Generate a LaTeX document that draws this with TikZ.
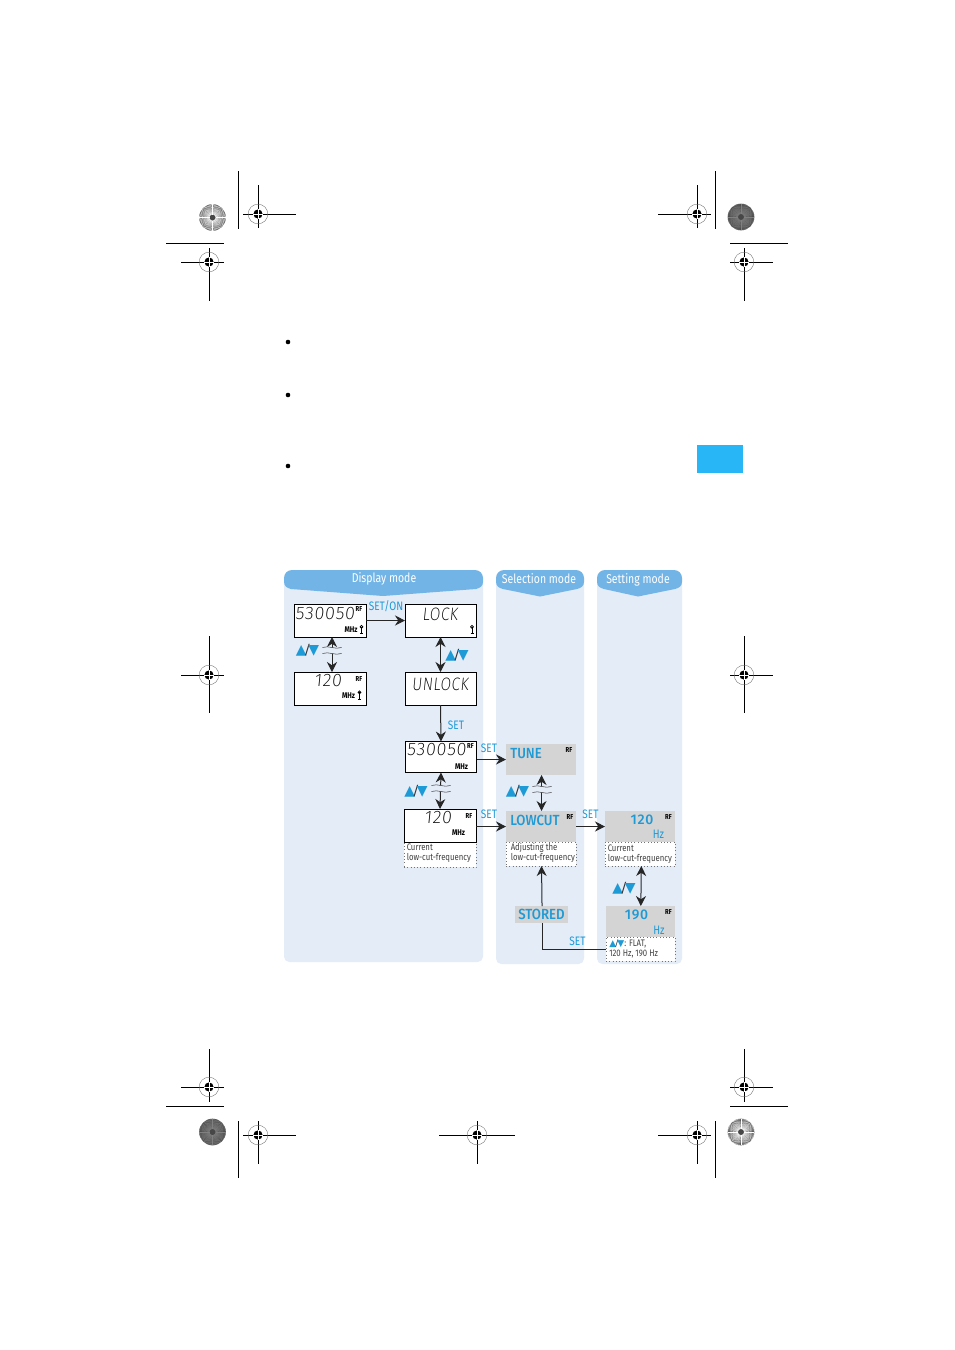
\documentclass[tikz,border=0pt]{standalone}
\usepackage{fontspec}
\usetikzlibrary{arrows.meta,calc}
\setmainfont{Fira Sans}[FakeStretch=0.82]
\newfontfamily\lcdfont{Fira Sans ExtraLight}[FakeSlant=0.1,LetterSpace=4]
\newfontfamily\lcdletter{Fira Sans ExtraLight}[FakeSlant=0.1,FakeStretch=0.85,LetterSpace=3]
\newfontfamily\medfont{Fira Sans Medium}[FakeStretch=0.9]
\newfontfamily\numfont{Fira Sans Medium}[LetterSpace=4]
\newfontfamily\symfont{DejaVu Sans}
\definecolor{pan}{HTML}{E4ECF8}
\definecolor{hdr}{HTML}{72B4E6}
\definecolor{cy}{HTML}{1E9AD6}
\definecolor{gr}{HTML}{D4D4D4}
\definecolor{tab}{HTML}{29B6F6}
\tikzset{
 lcdbox/.style={draw=black,line width=0.65pt,fill=white,inner sep=0pt,outer sep=0pt},
 greybox/.style={fill=gr,inner sep=0pt,outer sep=0pt},
 capbox/.style={draw=black!55,dotted,line width=0.45pt,fill=white,inner sep=0pt,outer sep=0pt},
 arr/.style={-{Stealth[length=7.5pt,width=7.5pt]},line width=0.75pt,black!85},
 darr/.style={{Stealth[length=7.5pt,width=7.5pt]}-{Stealth[length=7.5pt,width=7.5pt]},line width=0.75pt,black!85},
 plainline/.style={line width=0.75pt,black!85},
 lab/.style={inner sep=0pt,text=cy,font=\fontsize{9.2}{11}\selectfont},
 hd/.style={inner sep=0pt,text=white,font=\fontsize{9.6}{11}\selectfont},
 lcd/.style={inner sep=0pt,font=\lcdfont\fontsize{13.5}{14}\selectfont},
 lcdl/.style={inner sep=0pt,font=\lcdletter\fontsize{13.5}{14}\selectfont},
 rf/.style={inner sep=0pt,font=\bfseries\fontsize{5.4}{6}\selectfont},
 mhz/.style={inner sep=0pt,font=\bfseries\fontsize{6.2}{6}\selectfont},
 big/.style={inner sep=0pt,text=cy,font=\medfont\fontsize{11}{12}\selectfont},
 num/.style={inner sep=0pt,text=cy,font=\numfont\fontsize{10.5}{12}\selectfont},
 unit/.style={inner sep=0pt,text=cy,font=\fontsize{9.2}{10}\selectfont},
 captxt/.style={inner sep=0pt,align=left,text=black!75,font=\fontsize{7.1}{7.5}\selectfont},
 regline/.style={line width=0.55pt,black},
}
% box from pixel corners
\newcommand{\bx}[6]{\node[#6,minimum width={(#4-#2)*0.75pt},minimum height={(#5-#3)*0.75pt}] (#1) at ({(#2+#4)/2},{(#3+#5)/2}) {};}
% registration mark: x y h1 h2 v1 v2
\newcommand{\regm}[6]{%
 \draw[regline] (#3,#2)--(#4,#2) (#1,#5)--(#1,#6);
 \draw[line width=0.25pt,black!60] (#1,#2) circle[radius=9.8];
 \fill (#1,#2) circle[radius=4.6];
 \draw[white,line width=0.3pt] (#1-4.6,#2)--(#1+4.6,#2) (#1,#2-4.6)--(#1,#2+4.6);}
% spoked disc: x y fill spoke
\newcommand{\sunb}[4]{%
 \fill[#3] (#1,#2) circle[radius=13.3];
 \foreach \a in {0,5,...,355} \draw[#4,line width=0.25pt] (#1,#2) ++(\a:3) -- ++(\a:10.3);}
% key icon
\newcommand{\keyic}[2]{\draw[line width=0.7pt] (#1,#2-3.5)--(#1,#2+3.5) (#1-1.5,#2+3.5)--(#1+1.5,#2+3.5); \draw[line width=0.6pt] (#1,#2-3.2) circle[radius=1.4];}
% wave break
\newcommand{\wavy}[2]{%
 \fill[pan] (#1-9.5,#2-4.5) .. controls (#1-3,#2-7) and (#1+3,#2-2) .. (#1+9.5,#2-4.5) -- (#1+9.5,#2+1.5) .. controls (#1+3,#2+4) and (#1-3,#2-1) .. (#1-9.5,#2+1.5) -- cycle;
 \draw[line width=0.4pt,black!75] (#1-9.5,#2-4.5) .. controls (#1-3,#2-7) and (#1+3,#2-2) .. (#1+9.5,#2-4.5)
  (#1-9.5,#2+1.5) .. controls (#1-3,#2-1) and (#1+3,#2+4) .. (#1+9.5,#2+1.5);}
\newcommand{\updn}[3]{\node[inner sep=0pt,font=\symfont\fontsize{#3}{#3}\selectfont] (#1) at (#2) {\textcolor{cy}{▲}\kern-.1em\textcolor{black!80}{/}\kern-.1em\textcolor{cy}{▼}};}
\begin{document}
\begin{tikzpicture}[x=0.75pt,y=-0.75pt]
\useasboundingbox (0,0) rectangle (954,1350);
\fill[white] (0,0) rectangle (954,1350);
% crop lines and registration marks
\draw[regline] (238,171)--(238,229) (166,243)--(224,243)
 (715,171)--(715,229) (730,243)--(788,243)
 (166,1106)--(224,1106) (238,1121)--(238,1178)
 (730,1106)--(788,1106) (715,1121)--(715,1178);
\regm{258}{214}{243}{296}{185}{228}
\regm{209}{262}{181}{224}{248}{301}
\regm{697}{214}{658}{711}{185}{228}
\regm{744}{262}{730}{773}{248}{301}
\regm{209}{675}{181}{224}{636}{713}
\regm{744}{675}{730}{773}{636}{713}
\regm{209}{1087}{181}{224}{1049}{1102}
\regm{744}{1087}{730}{773}{1049}{1102}
\regm{258}{1135}{243}{296}{1121}{1164}
\regm{477}{1135}{439}{515}{1121}{1164}
\regm{697}{1135}{658}{711}{1121}{1164}
\sunb{212.5}{217.5}{black!72}{white}
\sunb{741}{217}{black!72}{black!50}
\sunb{212.5}{1132}{black!72}{black!50}
\sunb{741}{1132}{black!72}{white}
% bullets and tab
\fill (288,342) circle[radius=2.3] (288,395) circle[radius=2.3] (288,466) circle[radius=2.3];
\fill[tab] (697,445) rectangle (743,473);
% panels
\fill[pan,rounded corners=4pt] (284,580) rectangle (483,962);
\fill[pan,rounded corners=4pt] (496,580) rectangle (584,964);
\fill[pan,rounded corners=4pt] (597,580) rectangle (682,964);
% headers
\fill[hdr] (284,578) [rounded corners=6pt] -- (284,570) -- (483,570) [sharp corners] -- (483,582) .. controls (483,586) and (480,588) .. (476,589) -- (383,596) -- (291,589) .. controls (287,588) and (284,586) .. (284,582) -- cycle;
\fill[hdr] (496,578) [rounded corners=6pt] -- (496,570) -- (584,570) [sharp corners] -- (584,582) .. controls (584,586) and (581,588) .. (577,589) -- (540,596.5) -- (503,589) .. controls (499,588) and (496,586) .. (496,582) -- cycle;
\fill[hdr] (597,578) [rounded corners=6pt] -- (597,570) -- (682,570) [sharp corners] -- (682,582) .. controls (682,586) and (679,588) .. (675,589) -- (638,596.5) -- (604,589) .. controls (600,588) and (597,586) .. (597,582) -- cycle;
\node[hd] (h1) at (384,578.5) {Display mode};
\node[hd] (h2) at (539,578.5) {Selection mode};
\node[hd] (h3) at (638,579.5) {Setting mode};
% boxes
\bx{b1}{294}{604}{366}{637}{lcdbox}
\bx{b2}{405}{604}{476}{637}{lcdbox}
\bx{b3}{294}{672}{366}{705}{lcdbox}
\bx{b4}{405}{672}{476}{705}{lcdbox}
\bx{b5}{405.5}{741.5}{476.5}{772.5}{lcdbox}
\bx{c6}{404}{842}{476}{867}{capbox}
\bx{b6}{404}{809}{476}{842}{lcdbox}
\bx{g1}{506}{744}{576}{775}{greybox}
\bx{c2}{506}{842}{576}{866}{capbox}
\bx{g2}{506}{811}{576}{842}{greybox}
\bx{c3}{605}{842}{675}{866}{capbox}
\bx{g3}{605}{811}{675}{842}{greybox}
\bx{c4}{606}{937}{675}{961}{capbox}
\bx{g4}{606}{906}{675}{937}{greybox}
\bx{st}{515}{906}{568}{923}{greybox}
% connectors
\draw[darr] ([xshift=1.5pt]b1.south) -- ([xshift=1.5pt]b3.north);
\draw[darr] (b2.south) -- (b4.north);
\draw[arr] (b1.east) -- (b2.west);
\draw[arr] (b4.south) -- (b5.north);
\draw[darr] (b5.south) -- (b6.north);
\draw[arr] (g1.west -| b5.east) -- (g1.west);
\draw[arr] (g2.west -| b6.east) -- (g2.west);
\draw[darr] ([xshift=0.4pt]g1.south) -- ([xshift=0.4pt]g2.north);
\draw[arr] (g2.east) -- (g3.west);
\draw[darr] ([xshift=1pt]c3.south) -- ([xshift=0.25pt]g4.north);
\draw[arr] ([xshift=0.4pt]st.north) -- ([xshift=0.4pt]c2.south);
\draw[plainline] ([xshift=0.4pt]st.south) |- (c4.west);
\wavy{332}{652}
\wavy{441}{790}
\wavy{542}{791}
% triangles
\updn{u1}{307.5,650.5}{10.5}
\updn{u2}{457,655.5}{10.5}
\updn{u3}{416,791.5}{10.5}
\updn{u4}{517.5,791.5}{10.5}
\updn{u5}{624,888.5}{10.5}
% labels
\node[lab] (l1) at (386,606) {SET/ON};
\node[lab] (l2) at (456,725) {SET};
\node[lab] (l3) at (489,748) {SET};
\node[lab] (l4) at (489,814) {SET};
\node[lab] (l5) at (590.5,814) {SET};
\node[lab] (l6) at (577.5,941) {SET};
% LCD text
\node[lcd] (t1) at (325,613.5) {530050};
\node[rf] (r1) at (359,609) {RF};
\node[mhz] (m1) at (351,630) {MHz};
\keyic{361.5}{630}
\node[lcdl] (t2) at (440,614) {LOCK};
\keyic{472}{630}
\node[lcd] (t3) at (328,681) {120};
\node[rf] (r3) at (359,678.5) {RF};
\node[mhz] (m3) at (348.5,695.5) {MHz};
\keyic{359.5}{695.5}
\node[lcdl] (t4) at (440,684) {UNLOCK};
\node[lcd] (t5) at (436.5,750) {530050};
\node[rf] (r5) at (470.5,746) {RF};
\node[mhz] (m5) at (461.5,766.5) {MHz};
\node[lcd] (t6) at (438,818) {120};
\node[rf] (r6) at (469,815.5) {RF};
\node[mhz] (m6) at (458.5,832.5) {MHz};
% grey box text
\node[big,anchor=west] (t7) at (510,753.5) {TUNE};
\node[rf] (r7) at (569,749.5) {RF};
\node[big,anchor=west] (t8) at (510,820) {LOWCUT};
\node[rf] (r8) at (570,816.5) {RF};
\node[num] (t9) at (642,819.5) {120};
\node[rf] (r9) at (668.5,816.5) {RF};
\node[unit] (t10) at (658.5,834) {Hz};
\node[num] (t11) at (636.5,915) {190};
\node[rf] (r11) at (668.5,911.5) {RF};
\node[unit] (t12) at (659,930) {Hz};
\node[big] (t13) at (541.5,914.5) {STORED};
% captions
\node[captxt,anchor=west] (k1) at (406.5,853) {Current\\low-cut-frequency};
\node[captxt,anchor=west] (k2) at (510.5,853) {Adjusting the\\low-cut-frequency};
\node[captxt,anchor=west] (k3) at (607.5,854) {Current\\low-cut-frequency};
\node[captxt,anchor=west] (k4) at (609,948.5) {{\symfont\fontsize{6.8}{7}\selectfont\textcolor{cy}{▲}\kern-.1em\textcolor{black!80}{/}\kern-.1em\textcolor{cy}{▼}}: FLAT,\\120 Hz, 190 Hz};
\end{tikzpicture}
\end{document}
